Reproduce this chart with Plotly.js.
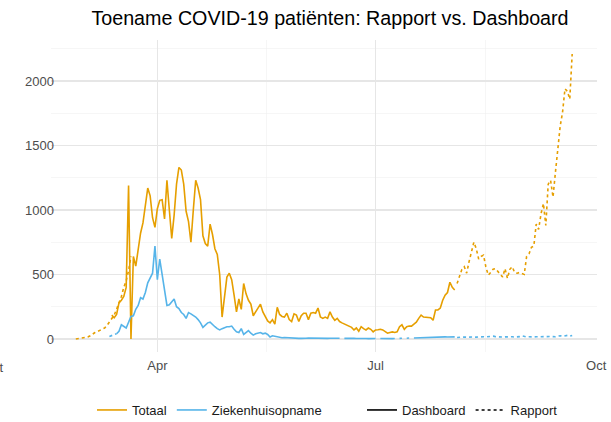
<!DOCTYPE html>
<html>
<head>
<meta charset="utf-8">
<script src="https://cdn.plot.ly/plotly-3.0.1.min.js"></script>
<style>html,body{margin:0;padding:0;background:#fff;}#chart{width:611px;height:422px;}</style>
</head>
<body>
<div id="chart"></div>
<script>
// ---- Data ----
const totaalDashboardStart = '2020-03-13';
const totaalDashboard = [185,165,190,280,300,330,400,1190,0,640,565,700,820,900,1060,1170,1110,940,865,
  1010,1075,1080,930,1230,1000,780,960,1200,1330,1310,1200,990,910,750,1000,1230,1170,1080,
  800,740,720,890,810,700,655,500,170,330,480,
  510,460,340,210,310,230,430,350,300,270,180,210,240,270,210,170,140,125,150,115,245,190,175,170,200,150,135,195,185,135,180,
  200,200,150,200,205,200,240,170,160,170,160,210,170,145,160,135,125,115,110,100,90,70,85,60,95,80,70,85,75,55,
  70,72,75,70,55,45,50,55,50,55,95,110,75,95,100,100,115,130,160,185,170,170,170,165,145,225,225,240,300,340,360,
  440,400,380];

const totaalRapportEarlyStart = '2020-02-27';
const totaalRapportEarly = [0,3,5,8,10,15,25,40,50,58,65,75,85,105,135,165,185,230,280,330,400,450,530,640];

const totaalRapportLateStart = '2020-08-04';
const totaalRapportLate = [430,490,540,560,510,600,680,750,700,620,640,650,560,495,515,540,545,525,500,480,545,470,540,560,515,510,515,510,
  500,640,660,710,720,890,850,970,1050,880,1200,1230,1100,1290,1450,1650,1760,1940,1920,1860,2210];

const zkhDashboardStart = '2020-03-15';
const zkhDashboard = [40,60,110,100,85,130,175,180,230,260,320,310,360,435,480,510,720,
  460,620,500,380,260,265,285,310,250,235,205,190,160,205,195,185,170,150,125,
  90,110,125,130,110,95,80,70,80,90,95,
  95,100,75,55,50,80,35,50,65,45,30,40,45,50,40,45,35,15,25,20,15,12,10,12,10,10,8,10,8,5,5,
  8,6,8,7,6,7,5,6,7,6,5,6,5,6,5,6,null,5,6,5,4,5,4,5,4,5,4,3,4,3,4,
  null,4,3,4,3,4,3,4,null,5,6,null,6,7,null,8,9,10,10,11,12,12,13,13,14,14,15,15,16,15,
  16,17,16];

const zkhRapportEarlyStart = '2020-03-12';
const zkhRapportEarly = [20,28,35,40];

const zkhRapportLateStart = '2020-08-04';
const zkhRapportLate = [12,14,13,15,14,16,13,15,14,16,15,17,16,18,15,22,18,16,17,15,16,18,20,17,15,16,18,24,18,16,
  17,15,16,17,18,16,17,18,20,19,18,17,22,25,20,24,28,22,27];

const xTickVals = ['2020-04-01','2020-07-01','2020-10-01'];
const xTickText = ['Apr','Jul','Oct'];
const xMinorVals = ['2020-05-16 12:00','2020-08-16'];
const xRange = ['2020-02-16 15:36','2020-10-01 08:24'];
const yRange = [-101, 2318];

const seriesNames = ['Totaal','Ziekenhuisopname'];
const typeNames = ['Dashboard','Rapport'];
// ---------------------------------------

function dates(start, n){
  const out=[]; const d=new Date(start+'T00:00:00Z');
  for(let i=0;i<n;i++){ const t=new Date(d.getTime()+i*86400000); out.push(t.toISOString().slice(0,10)); }
  return out;
}
const ORANGE='#E69F00', BLUE='#56B4E9', LW=1.6;
function tr(start, vals, color, dash, name, show){
  return {type:'scatter', mode:'lines', x:dates(start, vals.length), y:vals, name:name,
    showlegend:show, connectgaps:false, line:{color:color, width:LW, dash:dash}, hoverinfo:'x+y'};
}
const data = [
  tr(totaalRapportEarlyStart, totaalRapportEarly, ORANGE, 'dot', 'Totaal Rapport', false),
  tr(totaalRapportLateStart, totaalRapportLate, ORANGE, 'dot', 'Totaal Rapport', false),
  tr(zkhRapportEarlyStart, zkhRapportEarly, BLUE, 'dot', 'Ziekenhuisopname Rapport', false),
  tr(zkhRapportLateStart, zkhRapportLate, BLUE, 'dot', 'Ziekenhuisopname Rapport', false),
  tr(totaalDashboardStart, totaalDashboard, ORANGE, 'solid', seriesNames[0], true),
  tr(zkhDashboardStart, zkhDashboard, BLUE, 'solid', seriesNames[1], true),
  {type:'scatter', mode:'lines', x:[null], y:[null], name:typeNames[0], legend:'legend2', line:{color:'#000', width:LW, dash:'solid'}},
  {type:'scatter', mode:'lines', x:[null], y:[null], name:typeNames[1], legend:'legend2', line:{color:'#000', width:LW, dash:'dot'}}
];
const FONT='"Liberation Sans", Arial, sans-serif';
const LEGY = 1 - 410/422;
const layout = {
  width:611, height:422,
  margin:{l:51, r:14, t:40, b:70, autoexpand:false},
  paper_bgcolor:'#fff', plot_bgcolor:'#fff',
  font:{family:FONT, color:'#1a1a1a', size:13},
  title:{text:'Toename COVID-19 patiënten: Rapport vs. Dashboard', font:{family:FONT, size:19.7, color:'#000'},
    xref:'paper', x:0.511, xanchor:'center', yref:'container', y:0.957, yanchor:'middle'},
  xaxis:{type:'date', range:xRange, tickmode:'array', tickvals:xTickVals, ticktext:xTickText,
    showgrid:true, gridcolor:'#e6e6e6', gridwidth:1.1, zeroline:false, showline:false, ticks:'',
    ticklabelstandoff:4,
    tickfont:{family:FONT, size:13, color:'#4d4d4d'},
    minor:{tickmode:'array', tickvals:xMinorVals, showgrid:true, gridcolor:'#f0f0f0', gridwidth:0.6}},
  yaxis:{range:yRange, tickmode:'linear', tick0:0, dtick:500, showgrid:true, gridcolor:'#e6e6e6', gridwidth:1.1,
    zeroline:false, showline:false, ticks:'', ticklabelstandoff:-4, tickfont:{family:FONT, size:13, color:'#4d4d4d'},
    minor:{tickmode:'linear', tick0:250, dtick:500, showgrid:true, gridcolor:'#f0f0f0', gridwidth:0.6}},
  legend:{orientation:'h', xref:'container', x:92/611, xanchor:'left', yref:'container', y:LEGY, yanchor:'middle', font:{family:FONT, size:13, color:'#1a1a1a'}, itemwidth:30, bgcolor:'rgba(0,0,0,0)'},
  legend2:{orientation:'h', xref:'container', x:362/611, xanchor:'left', yref:'container', y:LEGY, yanchor:'middle', font:{family:FONT, size:13, color:'#1a1a1a'}, itemwidth:30, bgcolor:'rgba(0,0,0,0)'},
  annotations:[{xref:'paper', yref:'paper', x:(-6.5-51)/546, y:(352-367)/312, xanchor:'center', yanchor:'middle', showarrow:false,
    text:'Oct', font:{family:FONT, size:13, color:'#4d4d4d'}}],
  showlegend:true
};
Plotly.newPlot('chart', data, layout, {displayModeBar:false, staticPlot:true});
</script>
</body>
</html>
